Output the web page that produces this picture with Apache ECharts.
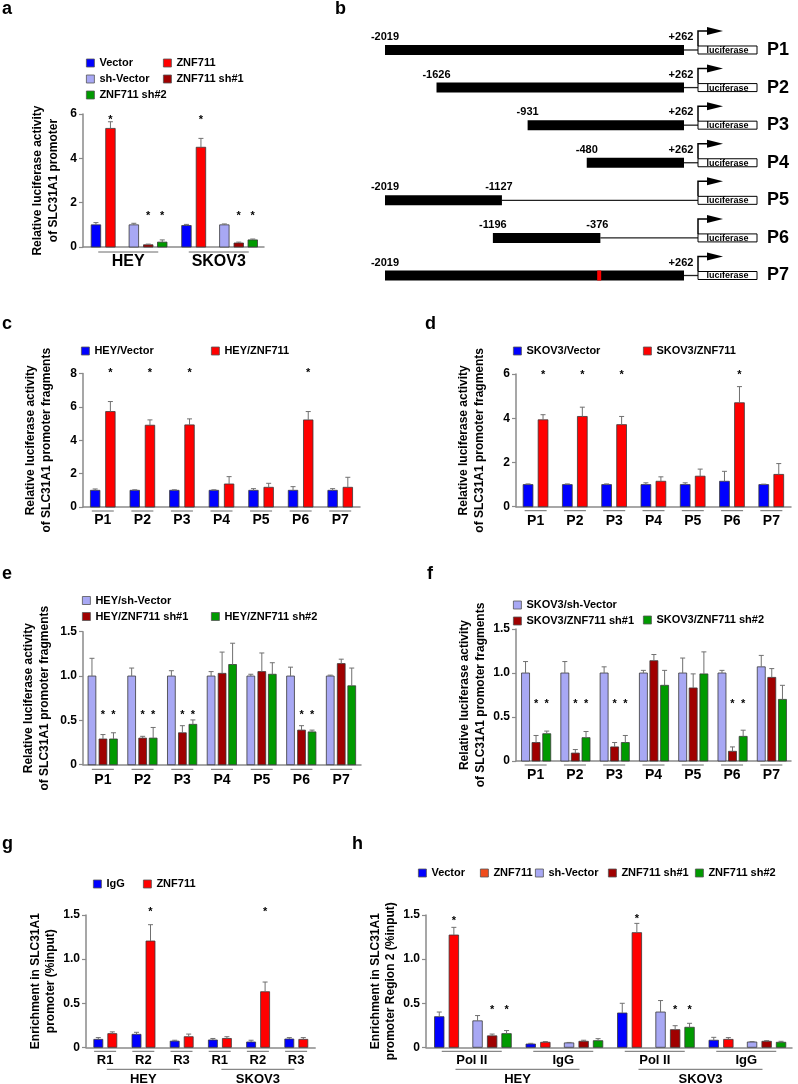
<!DOCTYPE html>
<html><head><meta charset="utf-8">
<script src="https://cdn.jsdelivr.net/npm/echarts@6/dist/echarts.min.js"></script>
<style>html,body{margin:0;padding:0;background:#fff}#chart{width:798px;height:1084px}</style>
</head><body><div id="chart"></div>
<script>
// ---------------- data ----------------
const FONT = '"Liberation Sans", Arial, Helvetica, sans-serif';

// colours
const C_VECTOR = '#0000ff', C_ZNF = '#ff0000', C_SHVEC = '#a8a8f4', C_SH1 = '#a00000', C_SH2 = '#009a00', C_ZNF_LEG_H = '#f04c1c';

// panel a
const aGroups = ['HEY', 'SKOV3'];
const aNames = ['Vector', 'ZNF711', 'sh-Vector', 'ZNF711 sh#1', 'ZNF711 sh#2'];
const aValues = [[1.00, 0.97], [5.35, 4.50], [1.00, 1.00], [0.10, 0.18], [0.22, 0.32]];
const aErrors = [[0.10, 0.05], [0.30, 0.40], [0.07, 0.04], [0.03, 0.04], [0.10, 0.04]];
const aStars = [[null, null], [5.86, 5.86], [null, null], [1.53, 1.53], [1.53, 1.53]];

// panel b
const bFragments = ['P1', 'P2', 'P3', 'P4', 'P5', 'P6', 'P7'];
const bStart = [-2019, -1626, -931, -480, -2019, -1196, -2019];
const bEnd = [262, 262, 262, 262, -1127, -376, 262];
const bMutation = [null, null, null, null, null, null, -385];
const bRange = [-2019, 262];

// panel c
const cCats = ['P1', 'P2', 'P3', 'P4', 'P5', 'P6', 'P7'];
const cNames = ['HEY/Vector', 'HEY/ZNF711'];
const cValues = [[1.00, 1.00, 1.00, 1.00, 1.00, 1.00, 1.00], [5.72, 4.90, 4.92, 1.38, 1.18, 5.22, 1.18]];
const cErrors = [[0.08, 0.03, 0.03, 0.03, 0.10, 0.22, 0.10], [0.60, 0.32, 0.36, 0.44, 0.24, 0.50, 0.60]];
const cStars = [[null, null, null, null, null, null, null], [8.2, 8.2, 8.2, null, null, 8.2, null]];

// panel d
const dCats = ['P1', 'P2', 'P3', 'P4', 'P5', 'P6', 'P7'];
const dNames = ['SKOV3/Vector', 'SKOV3/ZNF711'];
const dValues = [[1.00, 1.00, 1.00, 1.00, 1.00, 1.15, 1.00], [3.93, 4.08, 3.71, 1.15, 1.38, 4.70, 1.46]];
const dErrors = [[0.03, 0.03, 0.03, 0.08, 0.08, 0.45, 0.02], [0.23, 0.42, 0.37, 0.20, 0.32, 0.73, 0.49]];
const dStars = [[null, null, null, null, null, null, null], [6.1, 6.1, 6.1, null, null, 6.1, null]];

// panel e
const eCats = ['P1', 'P2', 'P3', 'P4', 'P5', 'P6', 'P7'];
const eNames = ['HEY/sh-Vector', 'HEY/ZNF711 sh#1', 'HEY/ZNF711 sh#2'];
const eValues = [[1.00, 1.00, 1.00, 1.00, 1.00, 1.00, 1.00],
                 [0.29, 0.30, 0.36, 1.03, 1.05, 0.39, 1.14],
                 [0.29, 0.30, 0.455, 1.13, 1.02, 0.37, 0.89]];
const eErrors = [[0.20, 0.09, 0.06, 0.05, 0.02, 0.10, 0.01],
                 [0.05, 0.02, 0.08, 0.24, 0.21, 0.05, 0.05],
                 [0.07, 0.12, 0.05, 0.24, 0.13, 0.02, 0.20]];
const eStars = [[null, null, null, null, null, null, null],
                [0.59, 0.59, 0.59, null, null, 0.59, null],
                [0.59, 0.59, 0.59, null, null, 0.59, null]];

// panel f
const fCats = ['P1', 'P2', 'P3', 'P4', 'P5', 'P6', 'P7'];
const fNames = ['SKOV3/sh-Vector', 'SKOV3/ZNF711 sh#1', 'SKOV3/ZNF711 sh#2'];
const fValues = [[1.00, 1.00, 1.00, 1.00, 1.00, 1.00, 1.07],
                 [0.21, 0.09, 0.16, 1.14, 0.83, 0.11, 0.95],
                 [0.31, 0.265, 0.21, 0.86, 0.99, 0.28, 0.70]];
const fErrors = [[0.13, 0.13, 0.07, 0.03, 0.17, 0.03, 0.13],
                 [0.08, 0.04, 0.05, 0.07, 0.16, 0.05, 0.10],
                 [0.03, 0.07, 0.08, 0.17, 0.25, 0.07, 0.16]];
const fStars = [[null, null, null, null, null, null, null],
                [0.685, 0.685, 0.685, null, null, 0.685, null],
                [0.685, 0.685, 0.685, null, null, 0.685, null]];

// panel g
const gCats = ['R1', 'R2', 'R3', 'R1', 'R2', 'R3'];
const gGroups = ['HEY', 'SKOV3'];
const gNames = ['IgG', 'ZNF711'];
const gValues = [[0.090, 0.147, 0.070, 0.083, 0.060, 0.094], [0.155, 1.205, 0.120, 0.100, 0.630, 0.090]];
const gErrors = [[0.020, 0.023, 0.010, 0.017, 0.020, 0.016], [0.020, 0.185, 0.030, 0.020, 0.110, 0.020]];
const gStars = [[null, null, null, null, null, null], [null, 1.565, null, null, 1.565, null]];

// panel h
const hCats = ['Pol II', 'IgG', 'Pol II', 'IgG'];
const hGroups = ['HEY', 'SKOV3'];
const hNames = ['Vector', 'ZNF711', 'sh-Vector', 'ZNF711 sh#1', 'ZNF711 sh#2'];
const hValues = [[0.347, 0.037, 0.389, 0.080],
                 [1.273, 0.057, 1.300, 0.090],
                 [0.300, 0.050, 0.400, 0.060],
                 [0.130, 0.068, 0.200, 0.068],
                 [0.155, 0.075, 0.227, 0.057]];
const hErrors = [[0.053, 0.008, 0.110, 0.033],
                 [0.087, 0.008, 0.105, 0.020],
                 [0.060, 0.005, 0.130, 0.005],
                 [0.020, 0.012, 0.045, 0.007],
                 [0.035, 0.023, 0.045, 0.011]];
const hStars = [[null, null, null, null],
                [1.47, null, 1.49, null],
                [null, null, null, null],
                [0.46, null, 0.46, null],
                [0.46, null, 0.46, null]];

// ---------------- helpers ----------------
const AXIS_COLOR = '#8a8a8a';
const BOLD = { fontFamily: FONT, fontWeight: 'bold', color: '#000' };
const fivePalette = [C_VECTOR, C_ZNF, C_SHVEC, C_SH1, C_SH2];
const shPalette = [C_SHVEC, C_SH1, C_SH2];
const twoPalette = [C_VECTOR, C_ZNF];

function catAxis(gridIndex, data, fontSize, margin, extra) {
  return Object.assign({
    type: 'category', gridIndex: gridIndex, data: data, position: 'bottom',
    axisLine: { show: true, onZero: false, lineStyle: { color: AXIS_COLOR, width: 1.5 } },
    axisTick: { show: false },
    axisLabel: Object.assign({}, BOLD, { fontSize: fontSize, margin: margin, interval: 0 }),
    splitLine: { show: false }
  }, extra || {});
}
function valAxis(gridIndex, max, interval, name, nameGap, lineHeight, decimals) {
  return {
    type: 'value', gridIndex: gridIndex, min: 0, max: max, interval: interval,
    name: name, nameLocation: 'middle', nameGap: nameGap, nameRotate: 90, nameMoveOverlap: false,
    nameTextStyle: Object.assign({}, BOLD, { fontSize: 12, lineHeight: lineHeight }),
    axisLine: { show: true, onZero: false, lineStyle: { color: AXIS_COLOR, width: 1.5 } },
    axisTick: { show: true, length: 4, lineStyle: { color: AXIS_COLOR, width: 1.2 } },
    axisLabel: Object.assign({}, BOLD, { fontSize: 12, margin: 6,
      formatter: function (v) { return decimals ? (v === 0 ? '0' : v.toFixed(1)) : String(v); } }),
    splitLine: { show: false }
  };
}
function bars(xAxisIndex, yAxisIndex, name, color, values, errors, stars, offset, width) {
  return {
    type: 'custom', name: name, xAxisIndex: xAxisIndex, yAxisIndex: yAxisIndex, silent: true,
    itemStyle: { color: color, borderColor: '#333', borderWidth: 0.8 },
    data: values.map(function (v, i) { return [i, v, errors[i], stars[i] == null ? -1 : stars[i]]; }),
    renderItem: function (params, api) {
      const i = api.value(0), v = api.value(1), e = api.value(2), s = api.value(3);
      const b = api.coord([i, 0]), t = api.coord([i, v]);
      const x = b[0] + offset;
      const ch = [{ type: 'rect', shape: { x: x - width / 2, y: t[1], width: width, height: b[1] - t[1] },
        style: { fill: color, stroke: '#3a3a3a', lineWidth: 0.8 } }];
      if (e > 0) {
        const et = api.coord([i, v + e])[1];
        ch.push({ type: 'line', shape: { x1: x, y1: t[1], x2: x, y2: et }, style: { stroke: '#707070', lineWidth: 1 } });
        ch.push({ type: 'line', shape: { x1: x - 2.5, y1: et, x2: x + 2.5, y2: et }, style: { stroke: '#707070', lineWidth: 1 } });
      }
      if (s >= 0) {
        const sy = api.coord([i, s])[1];
        ch.push({ type: 'text', style: { text: '*', x: x, y: sy + 3, align: 'center', verticalAlign: 'middle',
          font: 'bold 11px ' + FONT, fill: '#000' } });
      }
      return { type: 'group', children: ch };
    }
  };
}
function underline(xAxisIndex, yAxisIndex, count, width, dy) {
  return {
    type: 'custom', xAxisIndex: xAxisIndex, yAxisIndex: yAxisIndex, silent: true,
    data: Array.from({ length: count }, function (_, i) { return [i, 0]; }),
    renderItem: function (params, api) {
      const c = api.coord([api.value(0), 0]);
      return { type: 'line', shape: { x1: c[0] - width / 2, y1: c[1] + dy, x2: c[0] + width / 2, y2: c[1] + dy },
        style: { stroke: '#6a6a6a', lineWidth: 1 } };
    }
  };
}
function leg(names, left, top, orient) {
  return {
    left: left, top: top, orient: orient || 'vertical', data: names, icon: 'rect',
    itemWidth: 8, itemHeight: 8, itemGap: 2, padding: 0, selectedMode: false,
    textStyle: Object.assign({}, BOLD, { fontSize: 11, lineHeight: 14 }),
    itemStyle: { borderColor: '#555', borderWidth: 0.8 }
  };
}

// ---------------- layout ----------------
const off5 = [-32.3, -17.8, 5.6, 20, 34];
const grids = [
  { left: 83, top: 114, width: 181, height: 133 },      // a
  { left: 385, top: 31.2, width: 299, height: 263.1 },  // b
  { left: 83, top: 373.5, width: 277, height: 133.5 },  // c
  { left: 516, top: 374, width: 275, height: 132.7 },   // d
  { left: 83, top: 631.7, width: 278, height: 133 },    // e
  { left: 516, top: 629, width: 275, height: 132 },     // f
  { left: 86, top: 915, width: 229.2, height: 132.3 },  // g
  { left: 426, top: 915, width: 366, height: 132.3 }    // h
].map(function (g) { return Object.assign({ outerBoundsMode: 'none' }, g); });

const LUC_TITLE = 'Relative luciferase activity\nof SLC31A1 promoter fragments';
const xAxes = [
  catAxis(0, aGroups, 16, 7),                                   // 0 a
  { type: 'value', gridIndex: 1, min: bRange[0], max: bRange[1], show: false }, // 1 b
  catAxis(2, cCats, 14, 6),                                     // 2 c
  catAxis(3, dCats, 14, 7),                                     // 3 d
  catAxis(4, eCats, 14, 8),                                     // 4 e
  catAxis(5, fCats, 14, 7),                                     // 5 f
  catAxis(6, gCats, 13, 7),                                     // 6 g
  catAxis(6, gGroups, 13, 0, { offset: 26, axisLine: { show: false } }), // 7 g groups
  catAxis(7, hCats, 13, 7),                                     // 8 h
  catAxis(7, hGroups, 13, 0, { offset: 26, axisLine: { show: false } })  // 9 h groups
];
const yAxes = [
  valAxis(0, 6, 2, 'Relative luciferase activity\nof SLC31A1 promoter', 21, 16, false),
  { type: 'category', gridIndex: 1, data: bFragments, inverse: true, position: 'right',
    axisLine: { show: false }, axisTick: { show: false },
    axisLabel: Object.assign({}, BOLD, { fontSize: 18, margin: 83, align: 'left' }) },
  valAxis(2, 8, 2, LUC_TITLE, 28, 16, false),
  valAxis(3, 6, 2, LUC_TITLE, 28, 16, false),
  valAxis(4, 1.5, 0.5, LUC_TITLE, 30, 16, true),
  valAxis(5, 1.5, 0.5, LUC_TITLE, 27, 16, true),
  valAxis(6, 1.5, 0.5, 'Enrichment in SLC31A1\npromoter (%input)', 28, 15, true),
  valAxis(7, 1.5, 0.5, 'Enrichment in SLC31A1\npromoter Region 2 (%input)', 28, 15, true)
];

const series = [];
// a
aNames.forEach(function (n, k) { series.push(bars(0, 0, n, fivePalette[k], aValues[k], aErrors[k], aStars[k], off5[k], 9.5)); });
series.push(underline(0, 0, aGroups.length, 60, 5));
// b
series.push({
  type: 'custom', xAxisIndex: 1, yAxisIndex: 1, silent: true, encode: { x: [0, 1], y: 2 },
  data: bFragments.map(function (f, i) { return [bStart[i], bEnd[i], i, bMutation[i] == null ? NaN : bMutation[i]]; }),
  renderItem: function (params, api) {
    const s = api.value(0), e = api.value(1), r = api.value(2), m = api.value(3);
    const ps = api.coord([s, r]), pe = api.coord([e, r]), pt = api.coord([bRange[1], r]);
    const y = ps[1], boxX = pt[0] + 14, boxW = 59, boxH = 8;
    const lab = function (txt, x) {
      return { type: 'text', style: { text: txt, x: x, y: y - 13, align: 'center', verticalAlign: 'middle',
        font: 'bold 11px ' + FONT, fill: '#000' } };
    };
    const ch = [
      { type: 'line', shape: { x1: pe[0], y1: y, x2: boxX, y2: y }, style: { stroke: '#222', lineWidth: 1.3 } },
      { type: 'rect', shape: { x: ps[0], y: y - 5, width: pe[0] - ps[0], height: 10 }, style: { fill: '#000' } },
      lab(String(s), ps[0]),
      lab(e > 0 ? '+' + e : String(e), pe[0] - 3),
      { type: 'rect', shape: { x: boxX, y: y - boxH / 2, width: boxW, height: boxH }, style: { fill: '#fff', stroke: '#000', lineWidth: 1 } },
      { type: 'text', style: { text: 'luciferase', x: boxX + boxW / 2, y: y + 0.5, align: 'center', verticalAlign: 'middle',
        font: 'bold 9px ' + FONT, fill: '#000' } },
      { type: 'polyline', shape: { points: [[boxX, y - boxH / 2], [boxX, y - 19], [boxX + 11, y - 19]] }, style: { stroke: '#000', lineWidth: 1.5, fill: null } },
      { type: 'polygon', shape: { points: [[boxX + 9, y - 23], [boxX + 25, y - 19], [boxX + 9, y - 15]] }, style: { fill: '#000' } }
    ];
    if (!isNaN(m)) {
      const pm = api.coord([m, r]);
      ch.push({ type: 'rect', shape: { x: pm[0] - 2, y: y - 5, width: 4, height: 10 }, style: { fill: '#ff0000' } });
    }
    return { type: 'group', children: ch };
  }
});
// c, d
cNames.forEach(function (n, k) { series.push(bars(2, 2, n, twoPalette[k], cValues[k], cErrors[k], cStars[k], [-7.6, 7.6][k], 9.5)); });
series.push(underline(2, 2, cCats.length, 22, 4));
dNames.forEach(function (n, k) { series.push(bars(3, 3, n, twoPalette[k], dValues[k], dErrors[k], dStars[k], [-7.6, 7.4][k], 9.8)); });
series.push(underline(3, 3, dCats.length, 22, 4));
// e, f
eNames.forEach(function (n, k) { series.push(bars(4, 4, n, shPalette[k], eValues[k], eErrors[k], eStars[k], [-10.9, 0.1, 10.6][k], 7.8)); });
series.push(underline(4, 4, eCats.length, 22, 4.6));
fNames.forEach(function (n, k) { series.push(bars(5, 5, n, shPalette[k], fValues[k], fErrors[k], fStars[k], [-10.1, 0.4, 11.1][k], 8)); });
series.push(underline(5, 5, fCats.length, 22, 4));
// g
gNames.forEach(function (n, k) { series.push(bars(6, 6, n, twoPalette[k], gValues[k], gErrors[k], gStars[k], [-6.8, 7.2][k], 9)); });
series.push(underline(6, 6, gCats.length, 22, 4));
series.push(underline(7, 6, gGroups.length, 73, 22));
// h
hNames.forEach(function (n, k) { series.push(bars(8, 7, n, fivePalette[k], hValues[k], hErrors[k], hStars[k], [-32.5, -17.9, 5.8, 20.4, 34.8][k], 9.5)); });
series.push(underline(8, 7, hCats.length, 60, 4));
series.push(underline(9, 7, hGroups.length, 124, 22));

const legends = [
  leg(['Vector', 'sh-Vector', 'ZNF711 sh#2'], 86, 56),
  leg(['ZNF711', 'ZNF711 sh#1'], 163, 56),
  leg(['HEY/Vector'], 81, 344), leg(['HEY/ZNF711'], 211, 344),
  leg(['SKOV3/Vector'], 513, 344), leg(['SKOV3/ZNF711'], 643, 344),
  leg(['HEY/sh-Vector', 'HEY/ZNF711 sh#1'], 82, 593.5), leg(['HEY/ZNF711 sh#2'], 211, 609.5),
  leg(['SKOV3/sh-Vector', 'SKOV3/ZNF711 sh#1'], 513, 598), leg(['SKOV3/ZNF711 sh#2'], 643, 613),
  leg(['IgG'], 93, 877), leg(['ZNF711'], 143, 877),
  leg(['Vector'], 418, 866), leg([{ name: 'ZNF711', itemStyle: { color: C_ZNF_LEG_H } }], 480, 866),
  leg(['sh-Vector'], 535, 866), leg(['ZNF711 sh#1'], 608, 866), leg(['ZNF711 sh#2'], 695, 866)
];

const panelLabels = [['a', 2, 9], ['b', 335, 9], ['c', 2, 324], ['d', 425, 324], ['e', 2, 574], ['f', 427, 574], ['g', 2, 844], ['h', 352, 844]];

const chart = echarts.init(document.getElementById('chart'), null, { renderer: 'canvas', width: 798, height: 1084 });
chart.setOption({
  animation: false,
  backgroundColor: '#fff',
  textStyle: { fontFamily: FONT },
  grid: grids,
  xAxis: xAxes,
  yAxis: yAxes,
  legend: legends,
  series: series,
  graphic: panelLabels.map(function (p) {
    return { type: 'text', x: p[1], y: p[2], style: { text: p[0], font: 'bold 18px ' + FONT, fill: '#000', verticalAlign: 'middle' } };
  })
});
</script></body></html>
